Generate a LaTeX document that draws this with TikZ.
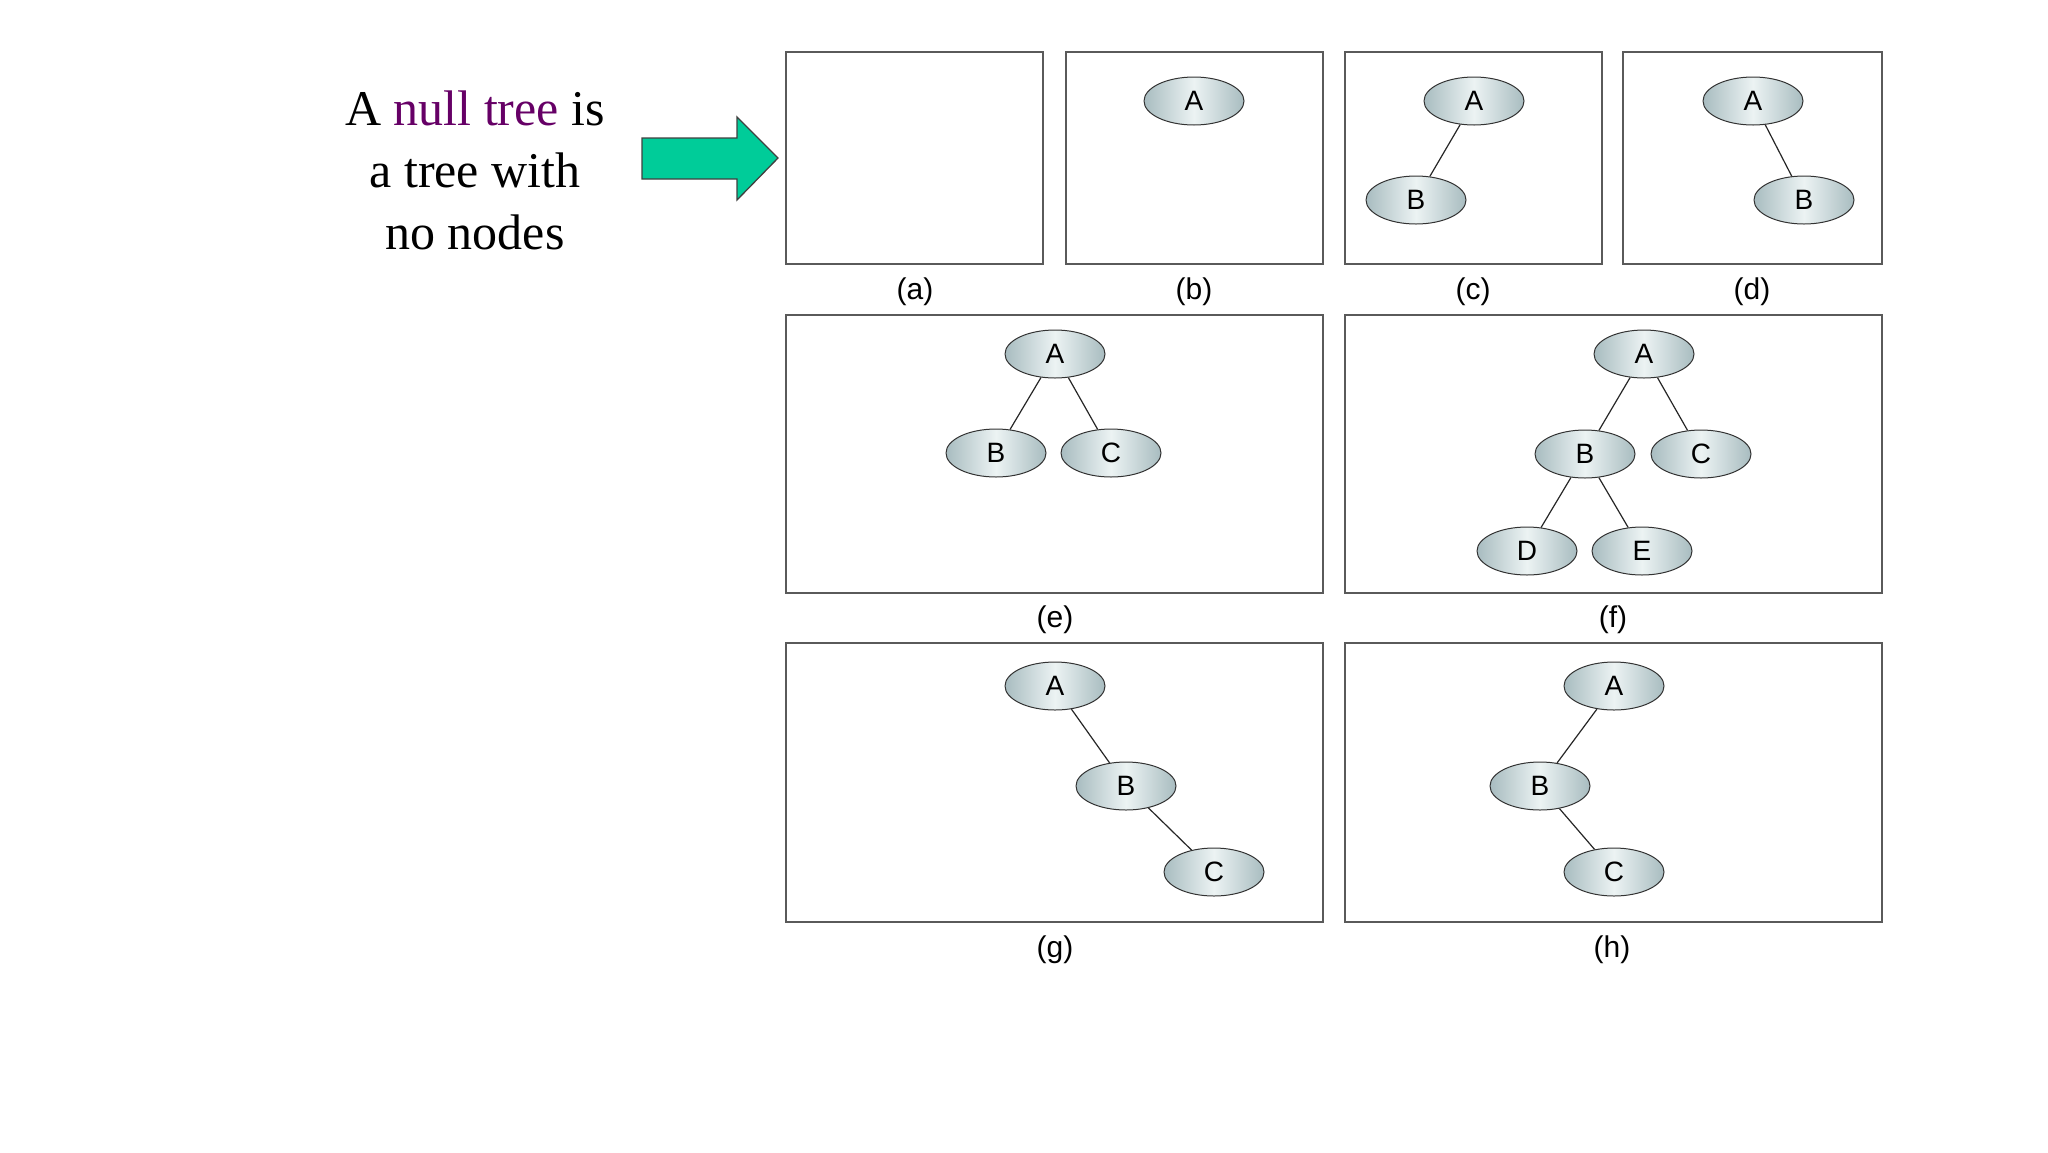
\documentclass[tikz,border=0pt]{standalone}
\usepackage{fontspec}
\setmainfont{Liberation Serif}
\newfontfamily\arialfont{Liberation Sans}
\usetikzlibrary{shapes.geometric}
\definecolor{nullpurple}{RGB}{102,0,102}
\definecolor{arrowgreen}{RGB}{0,204,153}
\definecolor{nodeedge}{RGB}{168,188,192}
\definecolor{nodemid}{RGB}{236,243,243}
\definecolor{boxline}{RGB}{90,90,90}
\tikzset{
  panel/.style={draw=boxline, line width=1.6pt, fill=white},
  tnode/.style={ellipse, draw=black!80, line width=1pt, minimum width=100pt, minimum height=48pt, inner sep=0pt,
    left color=nodeedge, right color=nodeedge, middle color=nodemid, font=\arialfont\fontsize{28}{30}\selectfont},
  tedge/.style={draw=black!85, line width=1.2pt},
  caption/.style={font=\arialfont\fontsize{30}{32}\selectfont, inner sep=0pt}
}
\begin{document}
\begin{tikzpicture}[x=1pt,y=-1pt]
\useasboundingbox (0,0) rectangle (2048,1152);
% left text
\node[align=center, font=\fontsize{50}{62}\selectfont, inner sep=0pt] (txt) at (475,170)
  {A {\color{nullpurple}null tree} is\\ a tree with\\ no nodes};
% block arrow
\draw[fill=arrowgreen, draw=black!75, line width=1.3pt]
  (642,138) -- (737,138) -- (737,117) -- (778,158) -- (737,200) -- (737,179) -- (642,179) -- cycle;
% panels row 1
\draw[panel] (786,52) rectangle (1043,264);
\draw[panel] (1066,52) rectangle (1323,264);
\draw[panel] (1345,52) rectangle (1602,264);
\draw[panel] (1623,52) rectangle (1882,264);
% row 2
\draw[panel] (786,315) rectangle (1323,593);
\draw[panel] (1345,315) rectangle (1882,593);
% row 3
\draw[panel] (786,643) rectangle (1323,922);
\draw[panel] (1345,643) rectangle (1882,922);
% captions
\node[caption] (la) at (915,292) {(a)};
\node[caption] (lb) at (1194,292) {(b)};
\node[caption] (lc) at (1473,292) {(c)};
\node[caption] (ld) at (1752,292) {(d)};
\node[caption] (le) at (1055,620) {(e)};
\node[caption] (lf) at (1613,620) {(f)};
\node[caption] (lg) at (1055,950) {(g)};
\node[caption] (lh) at (1612,950) {(h)};
% (b)
\node[tnode] (bA) at (1194,101) {A};
% (c)
\node[tnode] (cA) at (1474,101) {A};
\node[tnode] (cB) at (1416,200) {B};
\draw[tedge] (cA) -- (cB);
% (d)
\node[tnode] (dA) at (1753,101) {A};
\node[tnode] (dB) at (1804,200) {B};
\draw[tedge] (dA) -- (dB);
% (e)
\node[tnode] (eA) at (1055,354) {A};
\node[tnode] (eB) at (996,453) {B};
\node[tnode] (eC) at (1111,453) {C};
\draw[tedge] (eA) -- (eB);
\draw[tedge] (eA) -- (eC);
% (f)
\node[tnode] (fA) at (1644,354) {A};
\node[tnode] (fB) at (1585,454) {B};
\node[tnode] (fC) at (1701,454) {C};
\node[tnode] (fD) at (1527,551) {D};
\node[tnode] (fE) at (1642,551) {E};
\draw[tedge] (fA) -- (fB);
\draw[tedge] (fA) -- (fC);
\draw[tedge] (fB) -- (fD);
\draw[tedge] (fB) -- (fE);
% (g)
\node[tnode] (gA) at (1055,686) {A};
\node[tnode] (gB) at (1126,786) {B};
\node[tnode] (gC) at (1214,872) {C};
\draw[tedge] (gA) -- (gB);
\draw[tedge] (gB) -- (gC);
% (h)
\node[tnode] (hA) at (1614,686) {A};
\node[tnode] (hB) at (1540,786) {B};
\node[tnode] (hC) at (1614,872) {C};
\draw[tedge] (hA) -- (hB);
\draw[tedge] (hB) -- (hC);
\end{tikzpicture}
\end{document}
